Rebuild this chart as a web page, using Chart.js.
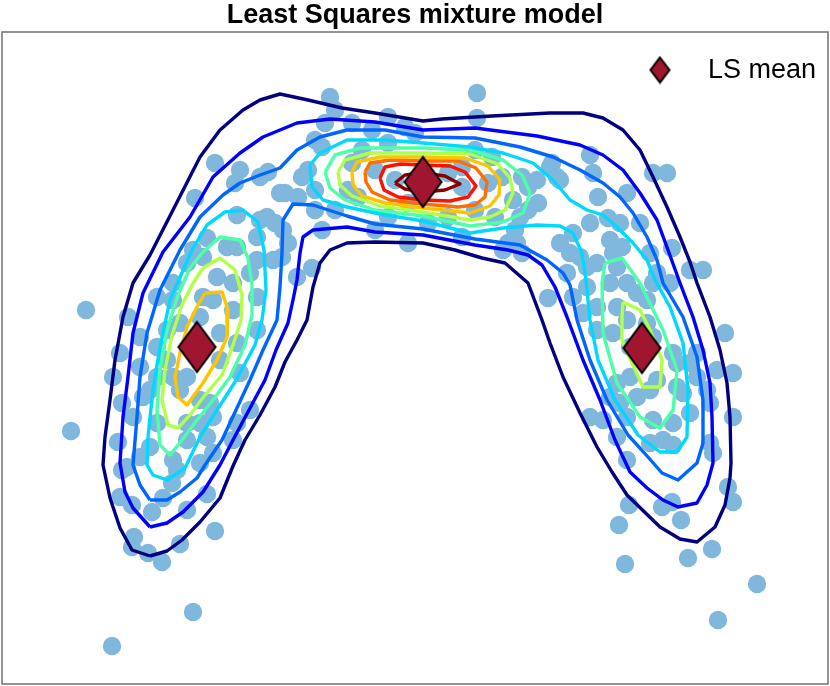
<!DOCTYPE html>
<html>
<head>
<meta charset="utf-8">
<script src="https://cdn.jsdelivr.net/npm/chart.js@4.4.1/dist/chart.umd.min.js"></script>
<style>
  body { margin: 0; background: #fff; }
  #wrap { width: 830px; height: 686px; }
</style>
</head>
<body>
<div id="wrap"><canvas id="lsChart" width="830" height="686"></canvas></div>
<script>
// sample points (x, y)
const samples = [
  [-1.85,2.37],[-1.60,2.30],[-1.65,2.17],[-1.40,2.23],[-1.32,2.28],[-2.05,2.02],[-1.20,2.07],[-1.63,1.85],[-1.40,1.80],[-1.33,1.83],
  [-1.43,1.63],[-1.93,1.62],[-1.73,1.53],[-2.07,1.50],[-1.18,1.43],[-1.03,1.23],[-0.88,1.32],[-1.17,1.70],[-1.27,1.40],[-1.43,1.03],[-1.63,1.53],
  [-3.14,0.90],[-3.29,-0.31],[-2.72,0.83],[-2.80,0.47],[-2.87,0.23],[-2.78,-0.03],[-2.82,-0.42],[-2.73,-0.67],[-2.50,0.10],[-2.43,0.53],
  [-2.33,0.70],[-2.43,1.03],[-2.27,1.17],[-2.13,1.37],[-1.97,1.43],[-1.83,1.23],[-1.67,1.17],[-1.50,1.27],[-1.43,1.40],[-1.87,1.00],
  [-1.67,0.90],[-2.00,0.83],[-1.80,0.67],[-1.63,0.57],[-1.80,0.40],[-1.60,0.27],[-1.43,0.70],[-1.50,-0.10],[-2.13,0.23],[-2.27,0.23],
  [-2.20,0.10],[-2.00,0.00],[-1.90,-0.03],[-2.13,-0.23],[-2.00,-0.23],[-1.87,-0.17],[-1.93,-0.37],[-1.63,-0.23],[-1.67,-0.40],[-2.13,-0.40],
  [-2.50,-0.47],[-2.43,-0.23],[-2.27,-0.60],[-2.23,-0.70],[-2.60,-0.57],[-1.87,-0.53],[-2.00,-0.63],[-2.27,1.00],[-1.97,1.03],[-2.20,0.77],
  [-2.33,0.40],[-2.43,0.23],[-2.60,0.33],[-2.60,0.63],[-2.57,0.03],[-2.67,-0.17],
  [-2.78,-0.70],[-2.80,-0.97],[-2.68,-1.05],[-2.48,-1.12],[-2.37,-0.98],[-2.28,-0.83],[-2.13,-1.10],[-1.93,-0.94],[-1.85,-1.31],[-2.66,-1.37],
  [-2.68,-1.47],[-2.52,-1.53],[-2.38,-1.62],[-2.20,-1.44],[-2.07,-2.12],[-2.88,-2.46],
  [-0.70,3.03],[0.77,3.07],[-0.65,2.90],[0.77,2.82],[-0.75,2.77],[-0.85,2.60],[-0.78,2.53],[-0.92,2.30],[-0.98,2.23],[-1.15,2.07],
  [-1.02,2.03],[-0.85,2.10],[-0.85,1.90],[-1.25,1.77],[-1.12,1.57],[-0.78,1.70],[-0.65,1.90],[-0.48,2.77],[-0.28,2.70],[0.05,2.73],
  [-0.12,2.83],[-0.38,2.50],[-0.12,2.57],[0.15,2.67],[-0.05,2.20],[-0.25,2.30],[0.28,2.13],[0.48,2.27],[0.62,2.33],[0.75,2.50],
  [0.92,2.43],[1.02,2.23],[0.88,2.17],[0.62,2.13],[0.75,1.90],[0.08,1.97],[-0.12,1.83],[0.08,1.57],[-0.25,1.70],[0.28,1.77],
  [0.48,1.83],[0.62,1.63],[0.95,1.83],[1.15,1.70],[1.28,1.90],[1.38,1.97],[1.28,2.13],[1.22,2.23],[1.52,2.37],[1.08,1.57],
  [-0.52,2.10],[-0.42,2.03],[-0.48,2.37],
  [1.50,2.33],[1.57,2.23],[1.90,2.45],[1.93,2.27],[1.98,2.03],[2.27,2.07],[2.53,2.27],[2.67,2.27],[1.90,1.77],[2.08,1.82],
  [2.20,1.77],[2.40,1.77],[1.73,1.67],[1.60,1.57],[2.10,1.60],[2.22,1.53],[2.72,1.52],[1.37,2.20],[1.60,2.20],[1.13,2.00],
  [1.20,1.83],[1.17,1.57],[1.87,1.33],[1.67,1.27],[1.70,1.47],[2.13,1.47],[2.50,1.47],[2.57,1.27],[1.03,1.50],[1.22,1.47],[1.48,1.02],
  [1.80,1.43],[1.97,1.37],[2.17,1.33],[2.27,1.17],[2.10,1.17],[1.87,1.13],[1.73,1.03],[1.83,0.87],[1.97,0.93],[2.17,0.93],
  [2.37,1.07],[2.47,1.00],[2.53,1.17],[2.70,1.17],[2.90,1.30],[3.03,1.30],[2.27,0.80],[2.47,0.77],[1.97,0.70],[2.13,0.67],
  [2.30,0.53],[2.53,0.63],[2.73,0.47],[2.77,0.37],[2.90,0.37],[2.97,0.47],[3.17,0.30],[3.33,0.27],[3.25,0.67],[2.30,0.23],
  [2.17,0.17],[2.57,0.20],[2.77,0.13],[2.83,0.07],[2.97,0.23],[3.07,0.10],[3.10,-0.03],[2.10,0.03],[2.20,-0.03],[2.37,0.03],
  [2.50,0.10],[1.90,-0.17],[2.03,-0.20],[2.27,-0.17],[2.53,-0.20],[2.73,-0.23],[2.90,-0.13],[3.33,-0.17],[2.17,-0.37],[2.50,-0.43],
  [2.63,-0.40],[2.73,-0.45],[3.10,-0.43],[3.13,-0.53],[2.27,-0.60],
  [3.28,-0.87],[3.33,-1.02],[2.29,-1.05],[2.62,-1.07],[2.72,-1.02],[2.81,-1.20],[2.19,-1.25],[3.12,-1.49],[2.88,-1.58],[2.25,-1.64],
  [3.57,-1.84],[3.18,-2.20]
];

// least squares means of the three components
const lsMeans = [[-2.03,0.53],[0.23,2.18],[2.42,0.52]];

// density contours, lowest level first
const navyLoop = [
  [-2.50,-1.56],[-2.68,-1.50],[-2.80,-1.28],[-2.90,-0.98],[-2.97,-0.65],[-2.95,-0.37],[-2.90,0.00],[-2.85,0.40],[-2.77,0.83],[-2.67,1.17],
  [-2.50,1.45],[-2.27,1.90],[-2.00,2.43],[-1.80,2.70],[-1.57,2.90],[-1.40,3.00],[-1.20,3.06],[-0.92,3.00],[-0.58,2.92],[-0.25,2.87],
  [0.23,2.79],[0.42,2.81],[0.92,2.84],[1.50,2.87],[1.83,2.87],[2.03,2.82],[2.23,2.70],[2.40,2.50],[2.53,2.23],[2.67,1.93],
  [2.80,1.63],[2.90,1.38],[2.97,1.17],[3.10,0.83],[3.20,0.50],[3.27,0.17],[3.30,-0.17],[3.31,-0.63],[3.30,-0.78],[3.25,-1.05],
  [3.15,-1.27],[2.97,-1.42],[2.80,-1.39],[2.60,-1.27],[2.27,-0.95],[2.12,-0.72],[1.97,-0.47],[1.80,-0.13],[1.63,0.23],[1.50,0.57],
  [1.42,0.80],[1.28,1.17],[1.05,1.37],[0.82,1.42],[0.55,1.50],[0.23,1.57],[-0.25,1.58],[-0.53,1.57],[-0.70,1.50],[-0.80,1.37],
  [-0.87,1.13],[-0.93,0.80],[-1.03,0.60],[-1.15,0.38],[-1.25,0.13],[-1.40,-0.15],[-1.55,-0.40],[-1.67,-0.66],[-1.80,-0.98],[-2.00,-1.22],
  [-2.18,-1.40],[-2.33,-1.51]
];
const blueLoop = [
  [-2.50,-1.27],[-2.67,-1.08],[-2.75,-0.92],[-2.80,-0.63],[-2.77,-0.17],[-2.72,0.23],[-2.67,0.67],[-2.57,1.07],[-2.37,1.48],[-2.10,1.83],
  [-1.87,2.23],[-1.60,2.47],[-1.37,2.63],[-1.03,2.77],[-0.70,2.81],[-0.25,2.78],[0.23,2.70],[0.75,2.72],[1.37,2.64],[1.80,2.55],
  [2.03,2.45],[2.23,2.30],[2.40,2.07],[2.57,1.80],[2.68,1.50],[2.80,1.17],[2.93,0.83],[3.03,0.50],[3.10,0.17],[3.12,-0.17],
  [3.13,-0.63],[3.07,-0.85],[2.97,-1.03],[2.78,-1.07],[2.63,-1.00],[2.47,-0.88],[2.30,-0.72],[2.15,-0.40],[2.00,0.00],[1.83,0.40],
  [1.67,0.83],[1.55,1.13],[1.42,1.35],[1.28,1.45],[1.08,1.50],[0.75,1.55],[0.23,1.65],[-0.25,1.68],[-0.53,1.73],[-0.87,1.70],
  [-0.97,1.63],[-1.00,1.47],[-1.03,1.20],[-1.07,1.00],[-1.12,0.77],[-1.24,0.50],[-1.35,0.20],[-1.51,-0.10],[-1.67,-0.40],[-1.80,-0.65],
  [-1.97,-0.92],[-2.17,-1.12],[-2.33,-1.23]
];
const azureLoop = [
  [-2.50,-1.00],[-2.60,-0.85],[-2.67,-0.65],[-2.63,-0.17],[-2.60,0.23],[-2.53,0.67],[-2.40,1.10],[-2.20,1.50],[-2.00,1.83],[-1.77,2.05],
  [-1.60,2.17],[-1.40,2.25],[-1.20,2.32],[-1.03,2.50],[-0.80,2.63],[-0.53,2.70],[-0.15,2.70],[0.23,2.63],[0.75,2.62],[1.20,2.53],
  [1.53,2.43],[1.80,2.30],[2.03,2.17],[2.20,2.03],[2.33,1.87],[2.47,1.63],[2.57,1.40],[2.63,1.17],[2.83,0.83],[2.97,0.43],
  [3.03,0.00],[3.03,-0.43],[2.97,-0.63],[2.78,-0.80],[2.62,-0.73],[2.48,-0.57],[2.28,-0.35],[2.07,0.00],[1.90,0.40],[1.77,0.80],
  [1.70,1.15],[1.63,1.27],[1.47,1.40],[1.20,1.55],[0.75,1.61],[0.23,1.71],[-0.25,1.76],[-0.53,1.84],[-0.87,1.95],[-1.07,1.96],
  [-1.17,1.80],[-1.18,1.47],[-1.20,1.13],[-1.23,0.80],[-1.37,0.50],[-1.50,0.20],[-1.64,-0.10],[-1.78,-0.40],[-1.95,-0.65],[-2.03,-0.78],
  [-2.20,-0.92],[-2.33,-1.00]
];
const cyanLoopLeft = [
  [-2.08,1.50],[-1.93,1.75],[-1.75,1.88],[-1.57,1.90],[-1.42,1.78],[-1.36,1.50],[-1.34,1.10],[-1.38,0.80],[-1.45,0.55],[-1.65,0.18],
  [-1.83,-0.10],[-2.00,-0.37],[-2.15,-0.68],[-2.33,-0.80],[-2.47,-0.75],[-2.53,-0.65],[-2.52,-0.37],[-2.47,0.10],[-2.40,0.53],[-2.30,1.00]
];
const cyanLoopMain = [
  [-0.90,2.35],[-0.80,2.47],[-0.53,2.60],[-0.15,2.60],[0.23,2.57],[0.70,2.53],[1.03,2.47],[1.33,2.37],[1.53,2.20],[1.70,2.00],
  [1.87,1.90],[2.03,1.85],[2.17,1.73],[2.33,1.57],[2.47,1.40],[2.55,1.20],[2.70,0.93],[2.83,0.57],[2.88,0.10],[2.87,-0.37],
  [2.77,-0.52],[2.60,-0.52],[2.38,-0.35],[2.15,0.00],[1.98,0.40],[1.90,0.80],[1.86,1.20],[1.82,1.47],[1.73,1.67],[1.60,1.74],
  [1.37,1.75],[1.03,1.72],[0.70,1.67],[0.23,1.79],[-0.20,1.86],[-0.53,1.93],[-0.77,2.00],[-0.88,2.13]
];
const aquaLoopLeft = [
  [-1.97,1.48],[-1.80,1.63],[-1.60,1.60],[-1.52,1.42],[-1.48,1.15],[-1.48,0.85],[-1.55,0.55],[-1.70,0.23],[-1.87,0.00],[-2.03,-0.20],
  [-2.18,-0.40],[-2.30,-0.55],[-2.40,-0.45],[-2.43,-0.10],[-2.40,0.30],[-2.33,0.70],[-2.22,1.05],[-2.10,1.32]
];
const aquaLoopCenter = [
  [-0.75,2.28],[-0.65,2.45],[-0.40,2.52],[0.23,2.52],[0.70,2.50],[1.03,2.40],[1.22,2.25],[1.30,2.07],[1.23,1.87],[1.03,1.78],
  [0.70,1.74],[0.23,1.84],[-0.25,1.90],[-0.55,2.00],[-0.70,2.12]
];
const aquaLoopRight = [
  [2.05,1.37],[2.22,1.42],[2.40,1.17],[2.63,0.70],[2.77,0.30],[2.73,-0.10],[2.60,-0.28],[2.40,-0.17],[2.17,0.17],[2.03,0.67],[2.02,1.17]
];
const limeLoopLeft = [
  [-1.97,1.32],[-1.80,1.42],[-1.65,1.30],[-1.58,1.05],[-1.59,0.80],[-1.67,0.55],[-1.78,0.25],[-1.95,0.05],[-2.10,-0.15],[-2.22,-0.28],
  [-2.32,-0.25],[-2.38,0.00],[-2.35,0.30],[-2.28,0.65],[-2.18,0.95],[-2.08,1.15]
];
const limeLoopCenter = [
  [-0.62,2.28],[-0.55,2.40],[-0.30,2.47],[0.23,2.47],[0.70,2.46],[0.98,2.36],[1.10,2.22],[1.13,2.07],[1.05,1.90],[0.90,1.83],
  [0.70,1.80],[0.23,1.88],[-0.20,1.94],[-0.48,2.04],[-0.60,2.15]
];
const limeLoopRight = [
  [2.23,0.98],[2.40,0.90],[2.50,0.70],[2.62,0.40],[2.60,0.13],[2.43,0.13],[2.32,0.37],[2.22,0.60],[2.22,0.83]
];
const amberLoopLeft = [
  [-1.95,1.07],[-1.78,1.08],[-1.72,0.90],[-1.73,0.63],[-1.83,0.40],[-1.97,0.17],[-2.13,-0.05],[-2.22,0.03],[-2.25,0.23],[-2.20,0.47],
  [-2.13,0.73],[-2.03,0.93]
];
const amberLoopCenter = [
  [-0.48,2.28],[-0.43,2.38],[-0.20,2.43],[0.23,2.43],[0.65,2.42],[0.88,2.34],[1.00,2.20],[0.99,2.05],[0.90,1.94],[0.70,1.87],
  [0.23,1.92],[-0.15,1.97],[-0.38,2.04],[-0.47,2.15]
];
const orangeLoop = [
  [-0.35,2.28],[-0.30,2.37],[-0.10,2.40],[0.23,2.39],[0.58,2.39],[0.76,2.32],[0.87,2.18],[0.85,2.03],[0.75,1.95],[0.58,1.93],
  [0.23,1.96],[-0.10,2.00],[-0.28,2.08],[-0.34,2.18]
];
const redLoop = [
  [-0.20,2.22],[-0.15,2.33],[0.00,2.36],[0.23,2.35],[0.50,2.34],[0.65,2.28],[0.76,2.14],[0.68,2.03],[0.50,1.99],[0.23,2.00],
  [-0.02,2.03],[-0.16,2.10]
];
const darkRedLoop = [
  [-0.05,2.17],[0.05,2.25],[0.23,2.27],[0.45,2.24],[0.60,2.16],[0.45,2.10],[0.23,2.08],[0.05,2.11]
];

const contours = [
  [navyLoop, '#000080'],
  [blueLoop, '#0000ff'],
  [azureLoop, '#0066ff'],
  [cyanLoopLeft, '#00d8ff'], [cyanLoopMain, '#00d8ff'],
  [aquaLoopLeft, '#4dffa8'], [aquaLoopCenter, '#4dffa8'], [aquaLoopRight, '#4dffa8'],
  [limeLoopLeft, '#b0ff48'], [limeLoopCenter, '#b0ff48'], [limeLoopRight, '#b0ff48'],
  [amberLoopLeft, '#ffc400'], [amberLoopCenter, '#ffc400'],
  [orangeLoop, '#ff6e00'],
  [redLoop, '#ff1000'],
  [darkRedLoop, '#8a0000']
];

const meanFill = '#a0152f';

function makeDiamond(w, h) {
  const c = document.createElement('canvas');
  c.width = w + 4;
  c.height = h + 4;
  const g = c.getContext('2d');
  g.beginPath();
  g.moveTo(c.width / 2, 2);
  g.lineTo(c.width - 2, c.height / 2);
  g.lineTo(c.width / 2, c.height - 2);
  g.lineTo(2, c.height / 2);
  g.closePath();
  g.fillStyle = meanFill;
  g.fill();
  g.lineWidth = 2;
  g.lineJoin = 'miter';
  g.strokeStyle = '#000';
  g.stroke();
  return c;
}

const bigDiamond = makeDiamond(37, 50);
const smallDiamond = makeDiamond(19, 25);

const toXY = pts => pts.map(([x, y]) => ({ x, y }));

const datasets = [];
datasets.push({
  label: 'LS mean',
  data: toXY(lsMeans),
  pointStyle: bigDiamond,
  pointRadius: 20,
  order: 0
});
contours.forEach(([loop, color], i) => {
  datasets.push({
    label: 'level ' + i,
    data: toXY(loop.concat([loop[0]])),
    showLine: true,
    borderColor: color,
    borderWidth: 3.4,
    borderJoinStyle: 'round',
    pointRadius: 0,
    tension: 0,
    fill: false,
    order: 1
  });
});
datasets.push({
  label: 'samples',
  data: toXY(samples),
  backgroundColor: 'rgb(128,183,220)',
  borderWidth: 0,
  pointRadius: 9.2,
  order: 2
});

// frame and legend drawn after the datasets
const framePlugin = {
  id: 'frameAndKey',
  afterDraw(chart) {
    const { ctx, chartArea: a } = chart;
    ctx.save();
    ctx.strokeStyle = '#707070';
    ctx.lineWidth = 1.5;
    ctx.strokeRect(a.left, a.top, a.right - a.left, a.bottom - a.top);
    const ky = a.top + 38;
    ctx.drawImage(smallDiamond, a.right - 168 - smallDiamond.width / 2, ky - smallDiamond.height / 2);
    ctx.fillStyle = '#000';
    ctx.font = '27px "Liberation Sans", Arial, sans-serif';
    ctx.textBaseline = 'middle';
    ctx.fillText('LS mean', a.right - 120, ky + 1);
    ctx.restore();
  }
};

new Chart(document.getElementById('lsChart'), {
  type: 'scatter',
  data: { datasets },
  options: {
    responsive: false,
    animation: false,
    events: [],
    layout: { autoPadding: false, padding: { left: 2, right: 2, top: 0, bottom: 2 } },
    scales: {
      x: { type: 'linear', min: -3.98, max: 4.28, display: false },
      y: { type: 'linear', min: -2.84, max: 3.68, display: false }
    },
    plugins: {
      legend: { display: false },
      tooltip: { enabled: false },
      title: {
        display: true,
        text: 'Least Squares mixture model',
        color: '#000',
        font: { family: '"Liberation Sans", Arial, sans-serif', size: 27, weight: 'bold', lineHeight: 1.15 },
        padding: { top: 0, bottom: 0.95 }
      }
    }
  },
  plugins: [framePlugin]
});
</script>
</body>
</html>
